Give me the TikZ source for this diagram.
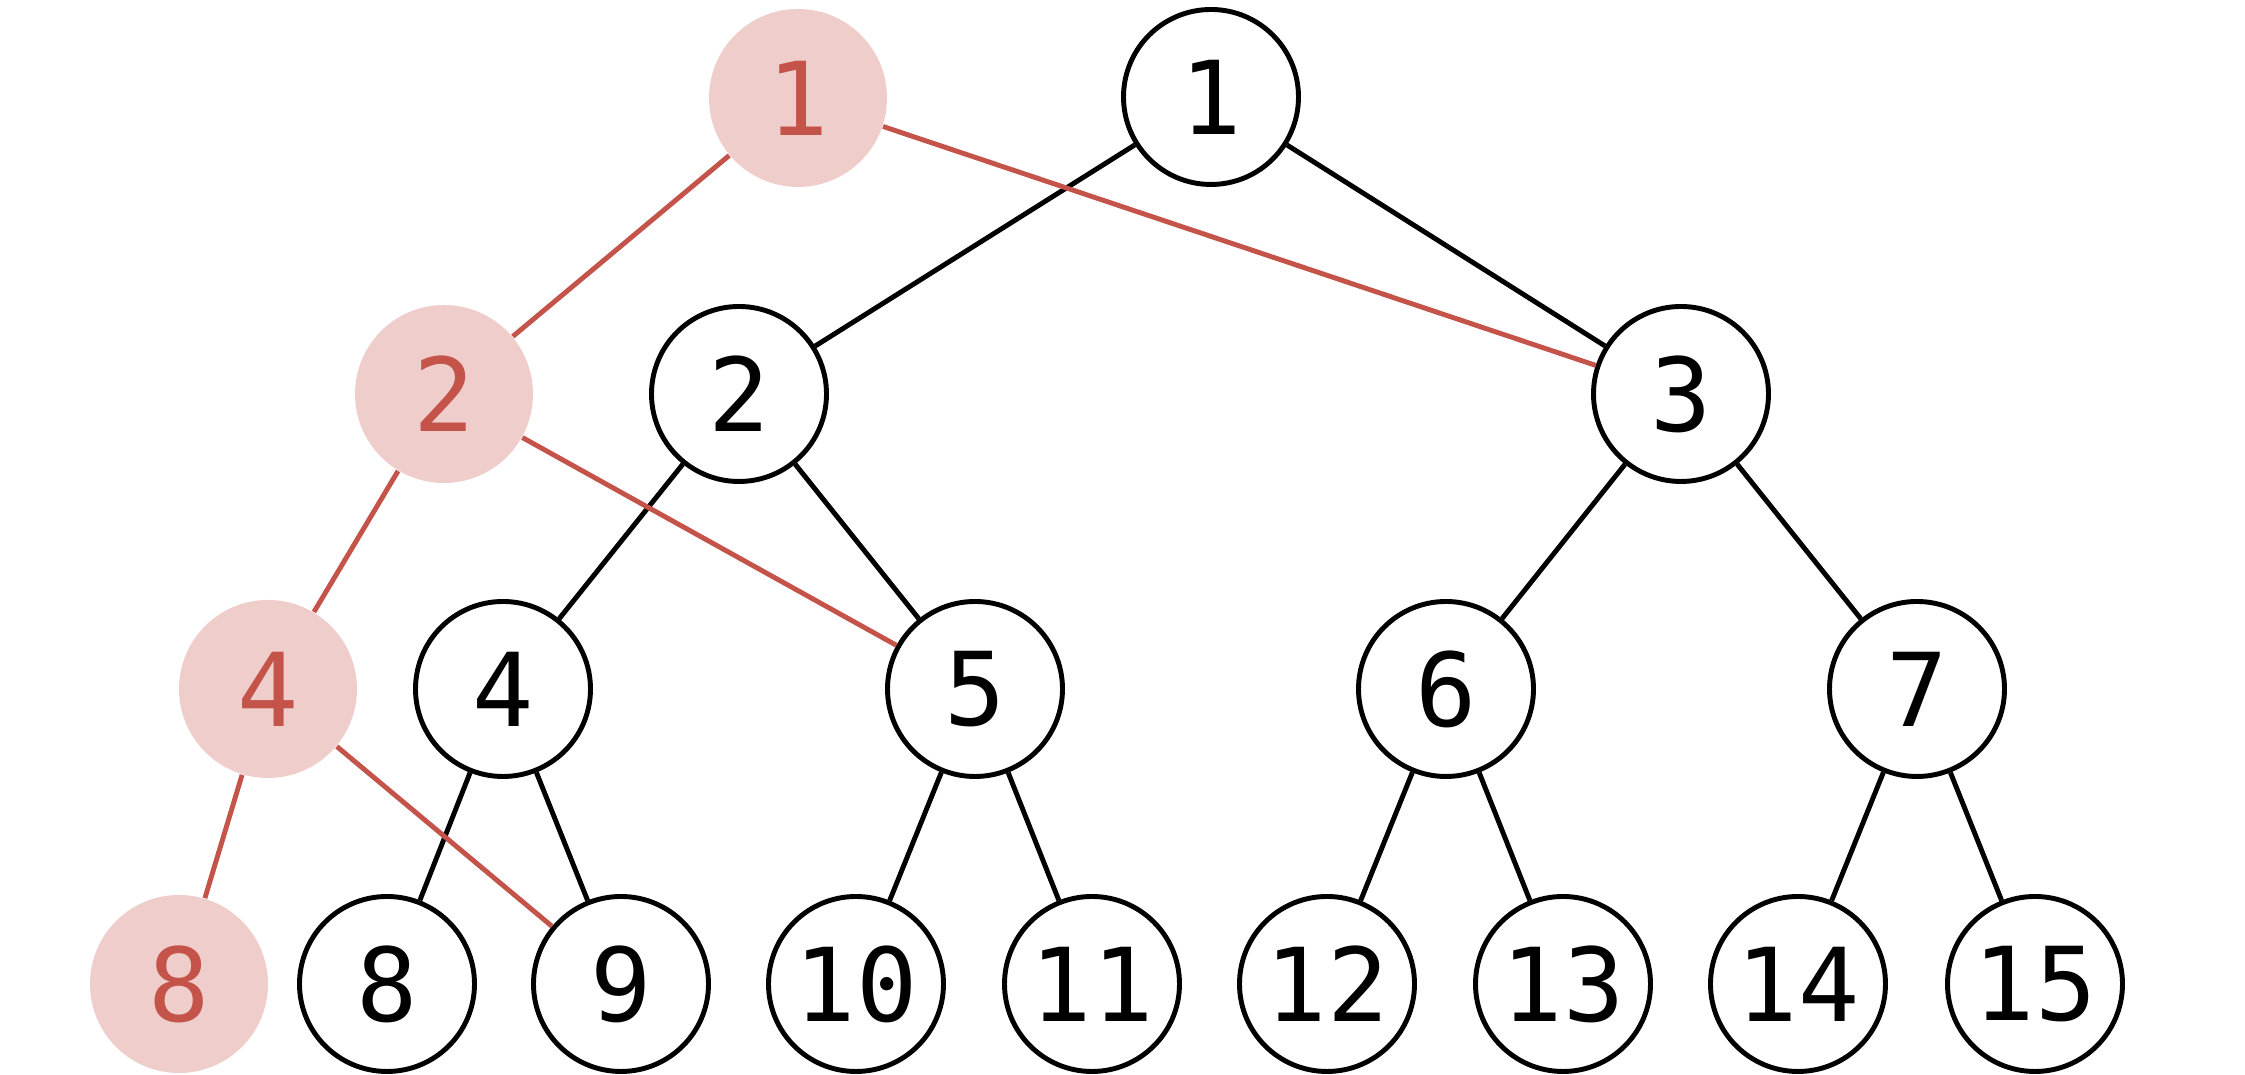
\documentclass[tikz,border=0pt]{standalone}
\usepackage{fontspec}
\setmonofont{DejaVu Sans Mono}
\definecolor{hlred}{RGB}{196,83,74}
\definecolor{hlpink}{RGB}{239,205,203}

\begin{document}
\begin{tikzpicture}[
  font=\ttfamily\fontsize{29}{29}\selectfont,
  vtx/.style={draw, circle, line width=1.4pt, minimum size=1.75cm, inner sep=0pt},
  hl/.style={circle, fill=hlpink, text=hlred, minimum size=1.78cm, inner sep=0pt},
  edge/.style={line width=1.4pt},
  hledge/.style={line width=1.4pt, draw=hlred},
]
\useasboundingbox (0,0) rectangle (22.45,10.75);
% Level 0
\node[vtx] (n1) at (12.11,9.78) {1};
% Level 1
\node[vtx] (n2) at (7.39,6.81) {2};
\node[vtx] (n3) at (16.81,6.81) {3};
% Level 2
\node[vtx] (n4) at (5.03,3.86) {4};
\node[vtx] (n5) at (9.75,3.86) {5};
\node[vtx] (n6) at (14.46,3.86) {6};
\node[vtx] (n7) at (19.17,3.86) {7};
% Leaves
\node[vtx] (n8)  at (3.87,0.91)  {8};
\node[vtx] (n9)  at (6.21,0.91)  {9};
\node[vtx] (n10) at (8.56,0.91)  {10};
\node[vtx] (n11) at (10.92,0.91) {11};
\node[vtx] (n12) at (13.27,0.91) {12};
\node[vtx] (n13) at (15.63,0.91) {13};
\node[vtx] (n14) at (17.98,0.91) {14};
\node[vtx] (n15) at (20.35,0.91) {15};
% Highlighted path
\node[hl] (h1) at (7.98,9.77) {1};
\node[hl] (h2) at (4.44,6.81) {2};
\node[hl] (h4) at (2.68,3.86) {4};
\node[hl] (h8) at (1.79,0.91) {8};
% Edges
\draw[edge] (n1) -- (n2);   \draw[edge] (n1) -- (n3);
\draw[edge] (n2) -- (n4);   \draw[edge] (n2) -- (n5);
\draw[edge] (n3) -- (n6);   \draw[edge] (n3) -- (n7);
\draw[edge] (n4) -- (n8);   \draw[edge] (n4) -- (n9);
\draw[edge] (n5) -- (n10);  \draw[edge] (n5) -- (n11);
\draw[edge] (n6) -- (n12);  \draw[edge] (n6) -- (n13);
\draw[edge] (n7) -- (n14);  \draw[edge] (n7) -- (n15);
% Highlighted edges
\draw[hledge] (h1) -- (h2); \draw[hledge] (h1) -- (n3);
\draw[hledge] (h2) -- (h4); \draw[hledge] (h2) -- (n5);
\draw[hledge] (h4) -- (h8); \draw[hledge] (h4) -- (n9);
\end{tikzpicture}
\end{document}
